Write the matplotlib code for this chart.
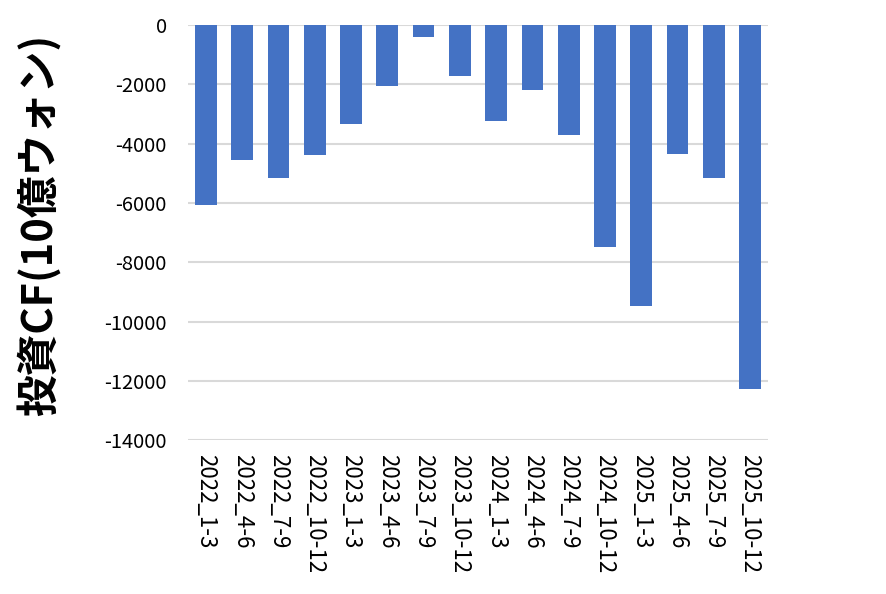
import numpy as np
import matplotlib
matplotlib.use("Agg")
import matplotlib.pyplot as plt

plt.rcParams['font.family'] = ['Noto Sans CJK JP', 'DejaVu Sans']

# Quarterly investing cash flow (10億ウォン)
quarters = ['2022_1-3', '2022_4-6', '2022_7-9', '2022_10-12',
            '2023_1-3', '2023_4-6', '2023_7-9', '2023_10-12',
            '2024_1-3', '2024_4-6', '2024_7-9', '2024_10-12',
            '2025_1-3', '2025_4-6', '2025_7-9', '2025_10-12']
invest_cf = [-6070, -4550, -5160, -4380,
             -3340, -2060, -390, -1720,
             -3230, -2210, -3710, -7480,
             -9470, -4350, -5160, -12270]
yticks = np.arange(-14000, 1, 2000)

fig = plt.figure(figsize=(8.86, 5.94), dpi=100)
ax = fig.add_axes([0.212, 0.259, 0.655, 0.699])

x = np.arange(len(quarters))
ax.bar(x, invest_cf, width=0.6, color='#4472c4', zorder=3)

ax.set_xlim(-0.5, len(quarters) - 0.5)
ax.set_ylim(-14000, 0)
ax.set_yticks(yticks)
ax.set_yticklabels([str(v) for v in yticks], fontsize=14.5)
ax.set_xticks(x)
ax.set_xticklabels(quarters, rotation=270, fontsize=16, va='top', ha='center')

ax.grid(axis='y', color='#d9d9d9', linewidth=1.5, zorder=0)
for s in ax.spines.values():
    s.set_visible(False)
ax.tick_params(axis='both', length=0)
ax.tick_params(axis='y', pad=15)
ax.tick_params(axis='x', pad=10)

# y axis title placed by hand, as in the original sheet
fig.text(40 / 886, 1 - 225 / 594, '投資CF(10億ウォン)', fontsize=30,
         fontweight='bold', rotation=90, ha='center', va='center')

fig.savefig('out.png', dpi=100)
